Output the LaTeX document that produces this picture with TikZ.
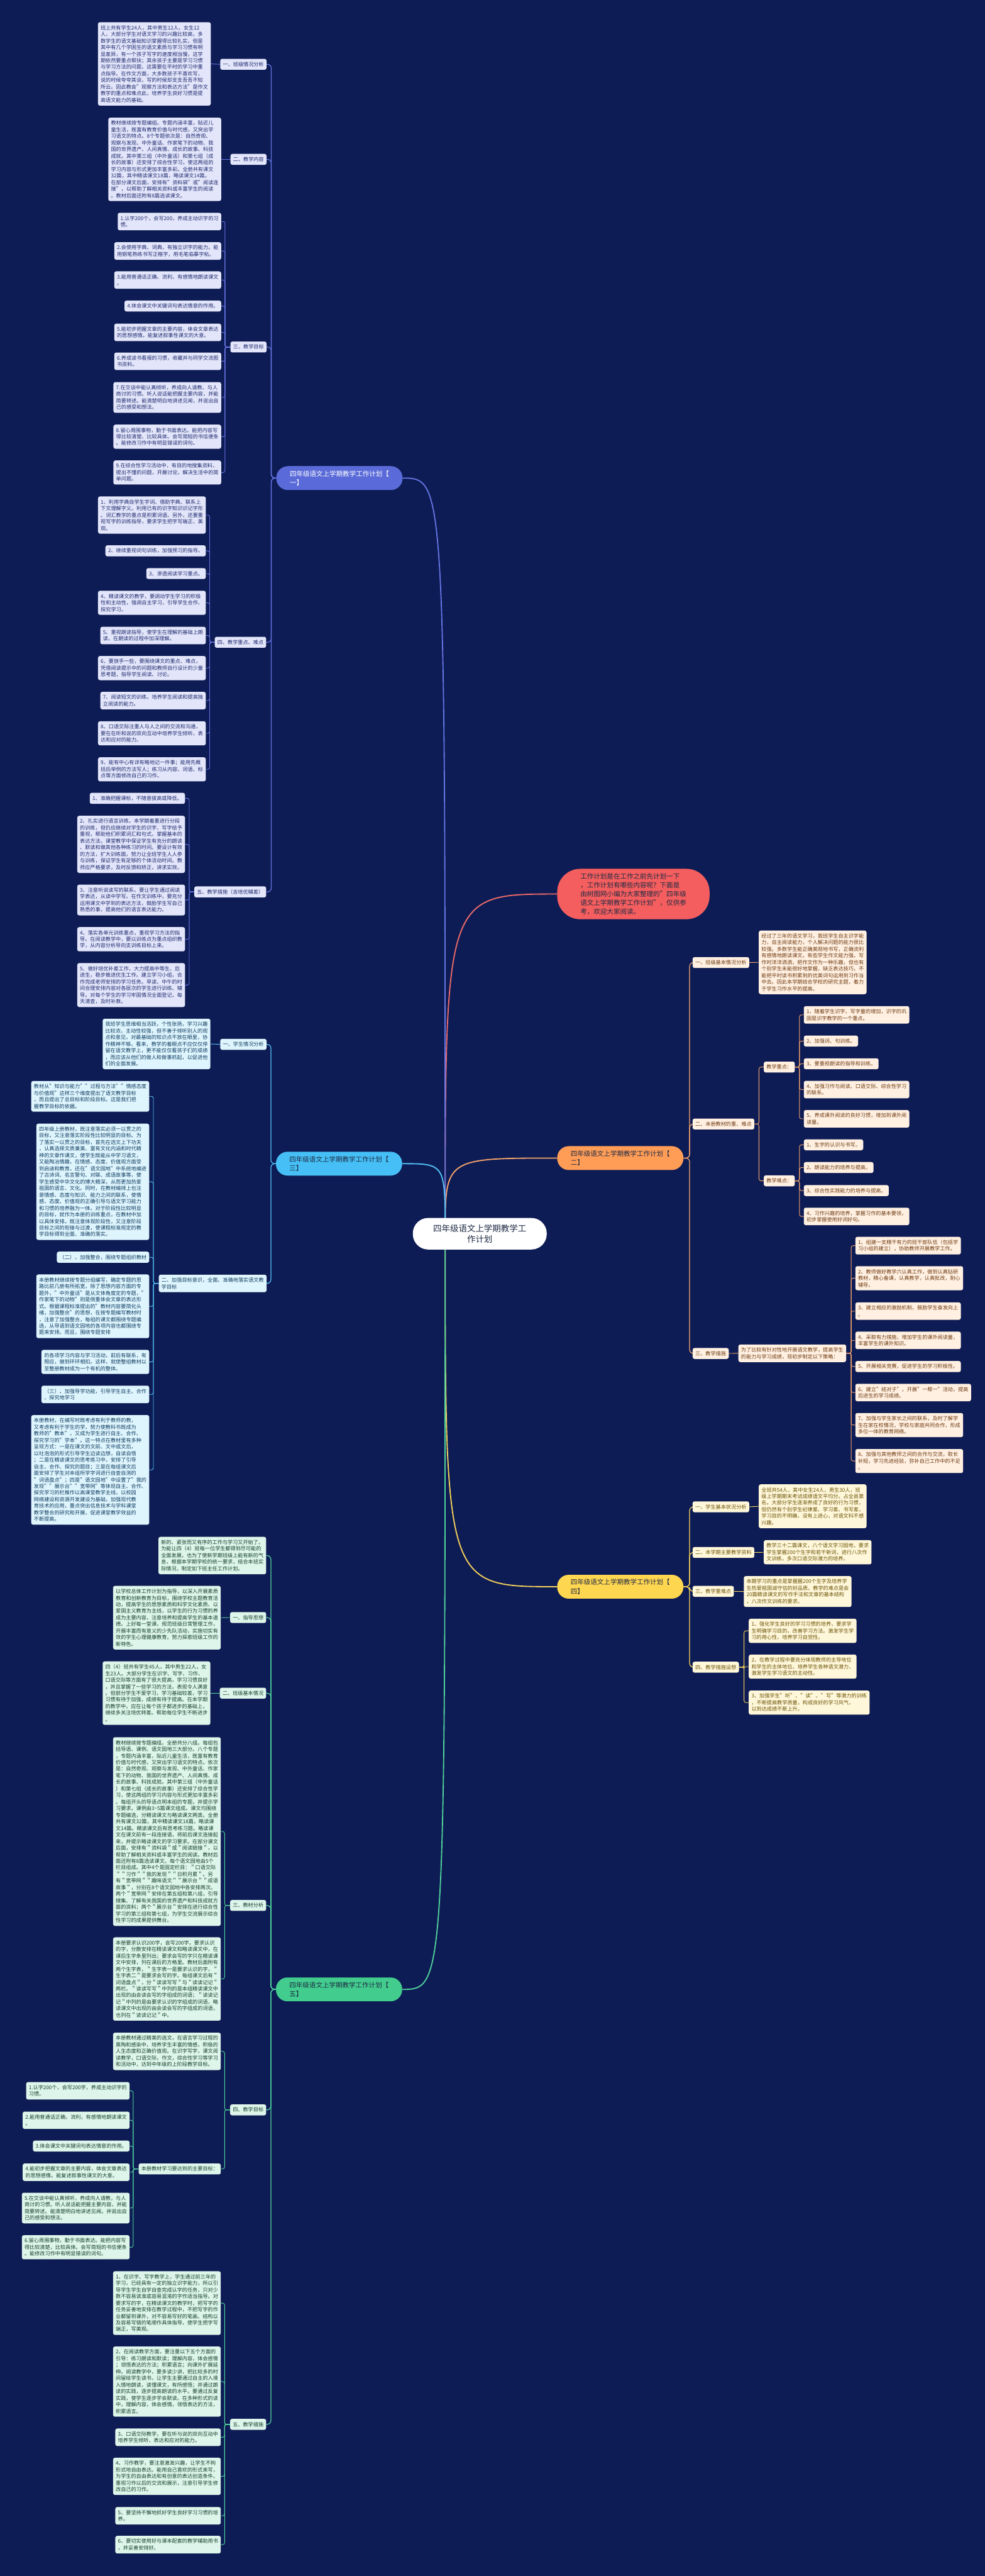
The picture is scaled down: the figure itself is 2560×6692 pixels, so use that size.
\documentclass[tikz,border=0pt]{standalone}
\usepackage{fontspec}
\setmainfont{Noto Sans CJK SC}

\pgfdeclarelayer{background}
\pgfdeclarelayer{lines}
\pgfsetlayers{background,lines,main}

\definecolor{bgNavy}{HTML}{0E1C55}
\definecolor{rootInk}{HTML}{1E2A44}
\definecolor{purpleMain}{HTML}{5A6BD9}
\definecolor{purpleLine}{HTML}{6575E2}
\definecolor{purpleLeaf}{HTML}{E3E6FA}
\definecolor{purpleInk}{HTML}{1F2A6E}
\definecolor{cyanMain}{HTML}{45BFF5}
\definecolor{cyanLine}{HTML}{52C4F7}
\definecolor{cyanLeaf}{HTML}{DFF5FE}
\definecolor{cyanInk}{HTML}{0E3B5E}
\definecolor{greenMain}{HTML}{42CD8E}
\definecolor{greenLine}{HTML}{4FD39B}
\definecolor{greenLeaf}{HTML}{DDF5EA}
\definecolor{greenInk}{HTML}{163F2C}
\definecolor{orangeMain}{HTML}{FF9D57}
\definecolor{orangeLine}{HTML}{F5A46C}
\definecolor{orangeLeaf}{HTML}{FFF0E2}
\definecolor{orangeInk}{HTML}{6E3A10}
\definecolor{yellowMain}{HTML}{FFD650}
\definecolor{yellowLine}{HTML}{F7D35A}
\definecolor{yellowLeaf}{HTML}{FFF7DA}
\definecolor{yellowInk}{HTML}{6A5206}
\definecolor{redMain}{HTML}{F45E5E}
\definecolor{redLine}{HTML}{F06B68}

\newcommand\leaffont{\fontsize{13.3pt}{17.1pt}\selectfont}
\newcommand\branchfont{\fontsize{17.2pt}{23pt}\selectfont}
\newcommand\rootfont{\fontsize{22pt}{29pt}\selectfont}

\tikzset{
  leafbox/.style={rounded corners=5pt, align=left, inner xsep=7pt, inner ysep=8pt, font=\leaffont},
  pleaf/.style={leafbox, fill=purpleLeaf, text=purpleInk},
  cleaf/.style={leafbox, fill=cyanLeaf, text=cyanInk},
  gleaf/.style={leafbox, fill=greenLeaf, text=greenInk},
  oleaf/.style={leafbox, fill=orangeLeaf, text=orangeInk},
  yleaf/.style={leafbox, fill=yellowLeaf, text=yellowInk},
  branchnode/.style={rounded corners=30pt, align=left, inner sep=0pt, minimum width=328pt, minimum height=62pt, font=\branchfont, text=rootInk},
  rootnode/.style={fill=white, rounded corners=40pt, align=center, inner sep=0pt, minimum width=348pt, minimum height=82pt, font=\rootfont, text=rootInk},
  intronode/.style={fill=redMain, rounded corners=60pt, align=left, inner sep=0pt, minimum width=396pt, minimum height=131pt, font=\branchfont, text=rootInk},
  trunk/.style={line width=2pt, rounded corners=10pt},
  twig/.style={line width=1.5pt, rounded corners=5pt},
  hubline/.style={line width=3pt},
}

\begin{document}
\begin{tikzpicture}[x=1pt,y=-1pt]

\begin{pgfonlayer}{background}
\fill[bgNavy] (0,0) rectangle (2560,6692);
\end{pgfonlayer}
\useasboundingbox (0,0) rectangle (2560,6692);

% root and intro
\node[rootnode] (root) at (1247,3205) {四年级语文上学期教学工\\作计划};
\coordinate (hub) at (1157,3205);
\node[intronode, anchor=west] (intro) at (1448,2322.5) {工作计划是在工作之前先计划一下\\，工作计划有哪些内容呢？下面是\\由树图网小编为大家整理的"四年级\\语文上学期教学工作计划"，仅供参\\考，欢迎大家阅读。};

% plan one
\node[branchnode, fill=purpleMain, text=white, anchor=west] (p0) at (718,1242) {四年级语文上学期教学工作计划【\\一】};
\node[pleaf, anchor=east] (ps1) at (693,167) {一、班级情况分析};
\node[pleaf, anchor=east] (pa1) at (548,166) {班上共有学生24人，其中男生12人，女生12\\人，大部分学生对语文学习的兴趣比较高，多\\数学生的语文基础知识掌握得比较扎实，但是\\其中有几个学困生的语文素质与学习习惯有明\\显差异，有一个孩子写字的速度相当慢，这学\\期依然要重点帮扶；其余孩子主要是学习习惯\\与学习方法的问题，这需要在平时的学习中重\\点指导。在作文方面，大多数孩子不喜欢写，\\说的时候夸夸其谈，写的时候却支支吾吾不知\\所云。因此教会"观察方法和表达方法"是作文\\教学的重点和难点此，培养学生良好习惯是提\\高语文能力的基础。};
\node[pleaf, anchor=east] (ps2) at (693,414) {二、教学内容};
\node[pleaf, anchor=east] (pa2) at (575,414) {教材继续按专题编组。专题内涵丰富，贴近儿\\童生活，既富有教育价值与时代感，又突出学\\习语文的特点。8个专题依次是：自然奇观、\\观察与发现、中外童话、作家笔下的动物、我\\国的世界遗产、人间真情、成长的故事、科技\\成就。其中第三组（中外童话）和第七组（成\\长的故事）还安排了综合性学习，使这两组的\\学习内容与形式更加丰富多彩。全册共有课文\\32篇，其中精读课文18篇，略读课文14篇。\\在部分课文后面，安排有"资料袋"或"阅读连\\接"，以帮助了解相关资料或丰富学生的阅读\\。教材后面还附有8篇选读课文。};
\node[pleaf, anchor=east] (ps3) at (693,901.5) {三、教学目标};
\node[pleaf, anchor=east] (pc1) at (575,575.5) {1.认字200个，会写200，养成主动识字的习\\惯。};
\node[pleaf, anchor=east] (pc2) at (575,652) {2.会使用字典、词典，有独立识字的能力。能\\用钢笔熟练书写正楷字，用毛笔临摹字帖。};
\node[pleaf, anchor=east] (pc3) at (575,727.5) {3.能用普通话正确、流利、有感情地朗读课文\\。};
\node[pleaf, anchor=east] (pc4) at (575,795) {4.体会课文中关键词句表达情意的作用。};
\node[pleaf, anchor=east] (pc5) at (575,863.5) {5.能初步把握文章的主要内容，体会文章表达\\的思想感情。能复述叙事性课文的大意。};
\node[pleaf, anchor=east] (pc6) at (575,938.5) {6.养成读书看报的习惯，收藏并与同学交流图\\书资料。};
\node[pleaf, anchor=east] (pc7) at (575,1032.5) {7.在交谈中能认真倾听，养成向人请教、与人\\商讨的习惯。听人说话能把握主要内容，并能\\简要转述。能清楚明白地讲述见闻，并说出自\\己的感受和想法。};
\node[pleaf, anchor=east] (pc8) at (575,1134.5) {8.留心周围事物，勤于书面表达。能把内容写\\得比较清楚、比较具体。会写简短的书信便条\\。能修改习作中有明显错误的词句。};
\node[pleaf, anchor=east] (pc9) at (575,1227.5) {9.在综合性学习活动中，有目的地搜集资料，\\提出不懂的问题，开展讨论，解决生活中的简\\单问题。};
\node[pleaf, anchor=east] (ps4) at (692,1668.5) {四、教学重点、难点};
\node[pleaf, anchor=east] (pd1) at (535,1338) {1、利用字典自学生字词。借助字典、联系上\\下文理解字义。利用已有的识字知识识记字形\\。词汇教学的重点是积累词语。另外，还要重\\视写字的训练指导，要求学生把字写端正、美\\观。};
\node[pleaf, anchor=east] (pd2) at (535,1431) {2、继续重视词句训练，加强预习的指导。};
\node[pleaf, anchor=east] (pd3) at (535,1490) {3、渗透阅读学习重点。};
\node[pleaf, anchor=east] (pd4) at (535,1566) {4、精读课文的教学，要调动学生学习的积极\\性和主动性，强调自主学习，引导学生合作、\\探究学习。};
\node[pleaf, anchor=east] (pd5) at (535,1651) {5、重视朗读指导，使学生在理解的基础上朗\\读、在朗读的过程中加深理解。};
\node[pleaf, anchor=east] (pd6) at (535,1735.5) {6、要放手一些，要围绕课文的重点、难点，\\凭借阅读提示中的问题和教师自行设计的少量\\思考题，指导学生阅读、讨论。};
\node[pleaf, anchor=east] (pd7) at (535,1820) {7、阅读短文的训练。培养学生阅读和提高独\\立阅读的能力。};
\node[pleaf, anchor=east] (pd8) at (535,1905) {8、口语交际注重人与人之间的交流和沟通，\\要在在听和说的双向互动中培养学生倾听、表\\达和应对的能力。};
\node[pleaf, anchor=east] (pd9) at (535,1998.5) {9、能有中心有详有略地记一件事；能用先概\\括后举例的方法写人；练习从内容、词语、标\\点等方面修改自己的习作。};
\node[pleaf, anchor=east] (ps5) at (692,2317) {五、教学措施（含培优辅差）};
\node[pleaf, anchor=east] (pe1) at (481,2074) {1、准确把握课标，不随意拔高或降低。};
\node[pleaf, anchor=east] (pe2) at (481,2193.5) {2、扎实进行语言训练，本学期着重进行分段\\的训练，但仍应继续对学生的识字、写字给予\\重视，帮助他们积累词汇和句式，掌握基本的\\表达方法。课堂教学中保证学生有充分的朗读\\、默读和做其他各种练习的时间。要设计有效\\的方法，扩大训练面，努力让全班学生人人参\\与训练，保证学生有足够的个体活动时间。教\\师应严格要求，及时反馈和矫正，讲求实效。};
\node[pleaf, anchor=east] (pe3) at (481,2338) {3、注意听说读写的联系。要让学生通过阅读\\学表达，从读中学写。在作文训练中，要充分\\运用课文中学到的表达方法，鼓励学生写自己\\熟悉的事，提高他们的语言表达能力。};
\node[pleaf, anchor=east] (pe4) at (481,2440) {4、落实各单元训练重点，重视学习方法的指\\导。在阅读教学中，要以训练点为重点组织教\\学，从内容分析导向支训练目标上来。};
\node[pleaf, anchor=east] (pe5) at (481,2559) {5、做好培优补差工作，大力提高中等生、后\\进生，稳步推进优生工作。建立学习小组，合\\作完成老师安排的学习任务。早读、中午的时\\间合理安排内容对各层次的学生进行训练、辅\\导。对每个学生的学习牢固情况全面登记，每\\天清查，及时补救。};

% plan three
\node[branchnode, fill=cyanMain, anchor=west] (c0) at (717,3023) {四年级语文上学期教学工作计划【\\三】};
\node[cleaf, anchor=east] (ct1) at (693,2713) {一、学生情况分析};
\node[cleaf, anchor=east] (cf1) at (547,2712) {我班学生思维相当活跃，个性张扬，学习兴趣\\比较浓，主动性较强，但不善于倾听别人的观\\点和意见，对最基础的知识点不放在眼里，协\\作精神不够。看来，教学的着眼点不应仅仅停\\留在语文教学上，更不能仅仅看孩子们的成绩\\，而应该从他们的做人和做事抓起，以促进他\\们的全面发展。};
\node[cleaf, anchor=east] (ct2) at (693,3334) {二、加强目标意识，全面、准确地落实语文教\\学目标};
\node[cleaf, anchor=east] (cg1) at (388,2848) {教材从"知识与能力""过程与方法""情感态度\\与价值观"这样三个维度提出了语文教学目标\\，而且提出了总目标和阶段目标。这是我们把\\握教学目标的依据。};
\node[cleaf, anchor=east] (cg2) at (388,3070) {四年级上册教材，既注意落实必须一以贯之的\\目标，又注意落实阶段性比较明显的目标。为\\了落实一以贯之的目标，首先在选文上下功夫\\，认真选择文质兼美、富有文化内涵和时代精\\神的文章作课文，使学生既能从中学习语文，\\又能陶冶情趣，在情感、态度、价值观方面受\\到启迪和教育。还在"语文园地"中系统地编进\\了古诗词、名言警句、对联、成语故事等，使\\学生感受中华文化的博大精深，从而更加热爱\\祖国的语言、文化。同时，在教材编排上也注\\意情感、态度与知识、能力之间的联系，使情\\感、态度、价值观的正确引导与语文学习能力\\和习惯的培养融为一体。对于阶段性比较明显\\的目标，就作为本册的训练重点，在教材中加\\以具体安排。既注意体现阶段性，又注意阶段\\目标之间的衔接与过渡，使课程标准规定的教\\学目标得到全面、准确的落实。};
\node[cleaf, anchor=east] (cg3) at (388,3266) {（二）、加强整合，围绕专题组织教材};
\node[cleaf, anchor=east] (cg4) at (388,3393.5) {本册教材继续按专题分组编写，确定专题的思\\路比前几册有所拓宽，除了思想内容方面的专\\题外，"中外童话"是从文体角度定的专题，"\\作家笔下的动物"则是侧重体会文章的表达形\\式。根据课程标准提出的"教材内容要简化头\\绪，加强整合"的思想，在按专题编写教材时\\，注意了加强整合，每组的课文都围绕专题编\\选，从导语到语文园地的各项内容也都围绕专\\题来安排。而且，围绕专题安排};
\node[cleaf, anchor=east] (cg5) at (388,3538) {的各项学习内容与学习活动，前后有联系，有\\照应，做到环环相扣。这样，就使整组教材以\\至整册教材成为一个有机的整体。};
\node[cleaf, anchor=east] (cg6) at (388,3622.5) {（三）、加强导学功能，引导学生自主、合作\\、探究地学习};
\node[cleaf, anchor=east] (cg7) at (388,3818.5) {本册教材，在编写时既考虑有利于教师的教，\\又考虑有利于学生的学，努力使教科书既成为\\教师的"教本"，又成为学生进行自主、合作、\\探究学习的"学本"。这一特点在教材里有多种\\呈现方式：一是在课文的文前、文中或文后，\\以吐泡泡的形式引导学生边读边想，自读自悟\\；二是在精读课文的思考练习中，安排了引导\\自主、合作、探究的题目；三是在每组课文后\\面安排了学生对本组所学字词进行自查自测的\\"词语盘点"；四是"语文园地"中设置了"我的\\发现""展示台""宽带网"等体现自主、合作、\\探究学习的栏推作以高课堂教学主线，以校园\\网络建设和资源开发建设为基础，加强现代教\\育技术的应用，重点突出信息技术与学科课堂\\教学整合的研究和开展，促进课堂教学效益的\\不断提高。};

% plan five
\node[branchnode, fill=greenMain, anchor=west] (g0) at (717,5168) {四年级语文上学期教学工作计划【\\五】};
\node[gleaf, anchor=east] (gh0) at (692,4041) {新的、紧张而又有序的工作与学习又开始了。\\为能让四（4）班每一位学生都得到尽可能的\\全面发展，也为了使新学期班级上能有新的气\\息，根据本学期学校的统一要求，结合本班实\\际情况，制定如下班主任工作计划。};
\node[gleaf, anchor=east] (gs1) at (692,4202) {一、指导思想};
\node[gleaf, anchor=east] (ga1) at (574,4202.5) {以学校总体工作计划为指导，以深入开展素质\\教育和创新教育为目标，围绕学校主题教育活\\动，提高学生的思想素质和科学文化素质、以\\爱国主义教育为主线，以学生的行为习惯的养\\成为主要内容，注意培养和提高学生的基本道\\德。上好每一堂课，规范班级日常管理工作，\\开展丰富而有意义的少先队活动，实施切实有\\效的学生心理健康教育。努力探索班级工作的\\新特色。};
\node[gleaf, anchor=east] (gs2) at (692,4398.5) {二、班级基本情况};
\node[gleaf, anchor=east] (gb1) at (547,4398.5) {四（4）班共有学生45人，其中男生22人，女\\生23人。大部分学生在识字、写字、习作、\\口语交际等方面有了很大提高，学习习惯良好\\，并且掌握了一些学习的方法，表现令人满意\\。但部分学生不爱学习，学习基础较差，学习\\习惯有待于加强，成绩有待于提高。在本学期\\的教学中，应在让每个孩子都进步的基础上，\\继续多关注培优转差。帮助每位学生不断进步\\。};
\node[gleaf, anchor=east] (gs3) at (692,4950) {三、教材分析};
\node[gleaf, anchor=east] (gc1) at (574,4758) {教材继续按专题编组。全册共分八组。每组包\\括导语、课例、语文园地三大部分。八个专题\\，专题内涵丰富，贴近儿童生活，既富有教育\\价值与时代感，又突出学习语文的特点。依次\\是：自然奇观、观察与发现、中外童话、作家\\笔下的动物、我国的世界遗产、人间真情、成\\长的故事、科技成就。其中第三组（中外童话\\）和第七组（成长的故事）还安排了综合性学\\习，使这两组的学习内容与形式更加丰富多彩\\。每组开头的导语点明本组的专题，并提示学\\习要求。课例由3\textasciitilde 5篇课文组成。课文均围绕\\专题编选，分精读课文与略读课文两类。全册\\共有课文32篇，其中精读课文18篇，略读课\\文14篇。精读课文后有思考练习题。略读课\\文在课文前有一段连接语，将前后课文连接起\\来，并提示略读课文的学习要求。在部分课文\\后面，安排有＂资料袋＂或＂阅读链接＂，以\\帮助了解相关资料或丰富学生的阅读。教材后\\面还附有8篇选读课文。每个语文园地由5个\\栏目组成。其中4个是固定栏目：＂口语交际\\＂＂习作＂＂我的发现＂＂日积月累＂。另\\有＂宽带网＂＂趣味语文＂＂展示台＂＂成语\\故事＂，分别在8个语文园地中各安排两次。\\两个＂宽带网＂安排在第五组和第八组，引导\\搜集、了解有关我国的世界遗产和科技成就方\\面的资料；两个＂展示台＂安排在进行综合性\\学习的第三组和第七组，为学生交流展示综合\\性学习的成果提供舞台。};
\node[gleaf, anchor=east] (gc2) at (574,5141) {本册要求认识200字，会写200字。要求认识\\的字，分散安排在精读课文和略读课文中，在\\课后生字条里列出；要求会写的字只在精读课\\文中安排，列在课后的方格里。教材后面附有\\两个生字表，＂生字表一是要求认识的字，＂\\生字表二＂是要求会写的字。每组课文后有＂\\词语盘点＂，分＂读读写写＂与＂读读记记＂\\两栏。＂读读写写＂中列的是本组精读课文中\\出现的由会读会写的字组成的词语；＂读读记\\记＂中列的是由要求认识的字组成的词语，略\\读课文中出现的由会读会写的字组成的词语，\\也列在＂读读记记＂中。};
\node[gleaf, anchor=east] (gs4) at (692,5481) {四、教学目标};
\node[gleaf, anchor=east] (gd1) at (574,5329) {本册教材通过精美的选文，在语言学习过程的\\熏陶和感染中，培养学生丰富的情感，积极的\\人生态度和正确价值观。在识字写字，课文阅\\读教学，口语交际，作文，综合性学习等学习\\和活动中，达到中年级的上阶段教学目标。};
\node[gleaf, anchor=east] (gd2) at (574,5634.5) {本册教材学习要达到的主要目标：};
\node[gleaf, anchor=east] (gm1) at (337,5431.5) {1.认字200个，会写200字，养成主动识字的\\习惯。};
\node[gleaf, anchor=east] (gm2) at (337,5508) {2.能用普通话正确，流利，有感情地朗读课文\\。};
\node[gleaf, anchor=east] (gm3) at (337,5575) {3.体会课文中关键词句表达情意的作用。};
\node[gleaf, anchor=east] (gm4) at (337,5643) {4.能初步把握文章的主要内容，体会文章表达\\的思想感情。能复述叙事性课文的大意。};
\node[gleaf, anchor=east] (gm5) at (337,5736) {5.在交谈中能认真倾听，养成向人请教，与人\\商讨的习惯。听人说话能把握主要内容，并能\\简要转述。能清楚明白地讲述见闻，并说出自\\己的感受和想法。};
\node[gleaf, anchor=east] (gm6) at (337,5838) {6.留心周围事物，勤于书面表达。能把内容写\\得比较清楚，比较具体。会写简短的书信便条\\。能修改习作中有明显错误的词句。};
\node[gleaf, anchor=east] (gs5) at (692,6298) {五、教学措施};
\node[gleaf, anchor=east] (ge1) at (574,5983) {1、在识字、写字教学上，学生通过前三年的\\学习，已经具有一定的独立识字能力，所以引\\导学生学生自学自查完成认字的任务，只对少\\数不容易读准或容易混淆的字作适当指导。对\\要求写的字，在精读课文的教学时，把写字的\\任务妥善地安排在教学过程中，不把写字的作\\业都留到课外，对不容易写好的笔画、结构以\\及容易写错的笔顺作具体指导，使学生把字写\\端正，写美观。};
\node[gleaf, anchor=east] (ge2) at (574,6187) {2、在阅读教学方面，要注重以下五个方面的\\引导：练习朗读和默读；理解内容，体会感情\\；领悟表达的方法；积累语言；向课外扩展延\\伸。阅读教学中，要多读少讲，把比较多的时\\间留给学生读书，让学生主要通过自主的入境\\入情地朗读，读懂课文，有所感悟；并通过朗\\读的实践，逐步提高朗读的水平。要通过反复\\实践，使学生逐步学会默读。在多种形式的读\\中，理解内容，体会感情，领悟表达的方法，\\积累语言。};
\node[gleaf, anchor=east] (ge3) at (574,6331.5) {3、口语交际教学，要在听与说的双向互动中\\培养学生倾听、表达和应对的能力。};
\node[gleaf, anchor=east] (ge4) at (574,6433) {4、习作教学，要注意激发兴趣，让学生不拘\\形式地自由表达。能用自己喜欢的形式来写，\\为学生的自由表达和有创意的表达创造条件。\\重视习作以后的交流和展示，注意引导学生修\\改自己的习作。};
\node[gleaf, anchor=east] (ge5) at (574,6535.5) {5、要坚持不懈地抓好学生良好学习习惯的培\\养。};
\node[gleaf, anchor=east] (ge6) at (574,6610.5) {6、要切实使用好与课本配套的教学辅助用书\\，并妥善安排好。};

% plan two
\node[branchnode, fill=orangeMain, anchor=west] (o0) at (1448,3008.5) {四年级语文上学期教学工作计划【\\二】};
\node[oleaf, anchor=west] (os1) at (1800,2500.5) {一、班级基本情况分析};
\node[oleaf, anchor=west] (oa1) at (1972,2500) {经过了三年的语文学习，我班学生自主识字能\\力，自主阅读能力，个人解决问题的能力很比\\较强。多数学生能正确美观地书写，正确流利\\有感情地朗读课文。有些学生作文能力强，写\\作时洋洋洒洒，把作文作为一种乐趣，但也有\\个别学生未能很好地掌握，缺乏表达技巧，不\\能把平时读书积累到的优美词句运用到习作当\\中去。因此本学期结合学校的研究主题，着力\\于学生习作水平的提高。};
\node[oleaf, anchor=west] (os2) at (1800,2920) {二、本册教材的重、难点};
\node[oleaf, anchor=west] (ok) at (1985,2772) {教学重点：};
\node[oleaf, anchor=west] (ok1) at (2089,2636.5) {1、随着学生识字、写字量的增加，识字的巩\\固是识字教学的一个重点。};
\node[oleaf, anchor=west] (ok2) at (2089,2704.5) {2、加强词、句训练。};
\node[oleaf, anchor=west] (ok3) at (2089,2763.5) {3、要重视朗读的指导和训练。};
\node[oleaf, anchor=west] (ok4) at (2089,2830.5) {4、加强习作与阅读、口语交际、综合性学习\\的联系。};
\node[oleaf, anchor=west] (ok5) at (2089,2906.5) {5、养成课外阅读的良好习惯，增加到课外阅\\读量。};
\node[oleaf, anchor=west] (on) at (1985,3067.5) {教学难点：};
\node[oleaf, anchor=west] (on1) at (2089,2974) {1、生字的认识与书写。};
\node[oleaf, anchor=west] (on2) at (2089,3033) {2、朗读能力的培养与提高。};
\node[oleaf, anchor=west] (on3) at (2089,3093) {3、综合性实践能力的培养与提高。};
\node[oleaf, anchor=west] (on4) at (2089,3160) {4、习作兴趣的培养，掌握习作的基本要领，\\初步掌握使用好词好句。};
\node[oleaf, anchor=west] (os3) at (1800,3516) {三、教学措施};
\node[oleaf, anchor=west] (om) at (1919,3515.5) {为了比较有针对性地开展语文教学，提高学生\\的能力与学习成绩，现初步制定以下策略：};
\node[oleaf, anchor=west] (om1) at (2223,3236) {1、组建一支精干有力的班干部队伍（包括学\\习小组的建立），协助教师开展教学工作。};
\node[oleaf, anchor=west] (om2) at (2223,3320.5) {2、教师做好教学六认真工作，做到认真钻研\\教材，精心备课，认真教学，认真批改，耐心\\辅导。};
\node[oleaf, anchor=west] (om3) at (2223,3406) {3、建立相应的激励机制，鼓励学生奋发向上\\。};
\node[oleaf, anchor=west] (om4) at (2223,3482) {4、采取有力措施，增加学生的课外阅读量，\\丰富学生的课外知识。};
\node[oleaf, anchor=west] (om5) at (2223,3550) {5、开展相关竞赛，促进学生的学习积极性。};
\node[oleaf, anchor=west] (om6) at (2223,3617.5) {6、建立"结对子"，开展"一帮一"活动，提高\\后进生的学习成绩。};
\node[oleaf, anchor=west] (om7) at (2223,3702) {7、加强与学生家长之间的联系，及时了解学\\生在家在校情况，学校与家庭共同合作，形成\\多位一体的教育网络。};
\node[oleaf, anchor=west] (om8) at (2223,3795.5) {8、加强与其他教师之间的合作与交流，取长\\补短，学习先进经验，弥补自己工作中的不足\\。};

% plan four
\node[branchnode, fill=yellowMain, anchor=west] (y0) at (1448,4122) {四年级语文上学期教学工作计划【\\四】};
\node[yleaf, anchor=west] (ys1) at (1800,3914.5) {一、学生基本状况分析};
\node[yleaf, anchor=west] (ya1) at (1972,3913) {全班共54人，其中女生24人，男生30人，班\\级上学期期末考试成绩语文平均分。占全县第\\名。大部分学生逐渐养成了良好的行为习惯，\\但仍然有个别学生纪律差、学习差、书写差，\\学习目的不明确，没有上进心，对语文科不感\\兴趣。};
\node[yleaf, anchor=west] (ys2) at (1800,4033) {二、本学期主要教学资料};
\node[yleaf, anchor=west] (ya2) at (1985,4032.5) {教学三十二篇课文，八个语文学习园地，要求\\学生掌握200个生字和若干新词，进行八次作\\文训练，多次口语交际潜力的培养。};
\node[yleaf, anchor=west] (ys3) at (1800,4134) {三、教学重难点};
\node[yleaf, anchor=west] (ya3) at (1933,4134.5) {本期学习的重点是掌握握200个生字及培养学\\生热爱祖国诚守信的好品质。教学的难点是会\\20篇精读课文的写作手法和文章的基本结构\\，八次作文训练的要求。};
\node[yleaf, anchor=west] (ys4) at (1800,4331) {四、教学措施设想};
\node[yleaf, anchor=west] (yd1) at (1946,4236.5) {1、强化学生良好的学习习惯的培养，要求学\\生明确学习目的，改善学习方法。激发学生学\\习的用心性，培养学习自觉性。};
\node[yleaf, anchor=west] (yd2) at (1946,4329.5) {2、在教学过程中要充分体现教师的主导地位\\和学生的主体地位，培养学生各种语文潜力，\\激发学生学习语文的主动性。};
\node[yleaf, anchor=west] (yd3) at (1946,4423) {3、加强学生"听"、"读"、"写"等潜力的训练\\，不断提高教学质量，构成良好的学习风气，\\以到达成绩不断上升。};

\begin{pgfonlayer}{lines}
% from the root
\draw[hubline, redLine] (hub) .. controls (hub |- intro.west) .. (intro.west);
\draw[hubline, orangeLine] (hub) .. controls (hub |- o0.west) .. (o0.west);
\draw[hubline, yellowLine] (hub) .. controls (hub |- y0.west) .. (y0.west);
\draw[hubline, purpleLine] (hub) .. controls (hub |- p0.east) .. (p0.east);
\draw[hubline, cyanLine] (hub) .. controls (hub |- c0.east) .. (c0.east);
\draw[hubline, greenLine] (hub) .. controls (hub |- g0.east) .. (g0.east);

% plan one
\foreach \i in {1,...,5}
  \draw[trunk, purpleLine] (p0.west) -- ++(-13,0) |- (ps\i.east);
\draw[twig, purpleLine] (ps1.west) -- (pa1.east);
\draw[twig, purpleLine] (ps2.west) -- (pa2.east);
\foreach \i in {1,...,9}{
  \draw[twig, purpleLine] (ps3.west) -- ++(-14,0) |- (pc\i.east);
  \draw[twig, purpleLine] (ps4.west) -- ++(-13,0) |- (pd\i.east);
}
\foreach \i in {1,...,5}
  \draw[twig, purpleLine] (ps5.west) -- ++(-13,0) |- (pe\i.east);

% plan three
\foreach \i in {1,2}
  \draw[trunk, cyanLine] (c0.west) -- ++(-13,0) |- (ct\i.east);
\draw[twig, cyanLine] (ct1.west) -- (cf1.east);
\foreach \i in {1,...,7}
  \draw[twig, cyanLine] (ct2.west) -- ++(-14,0) |- (cg\i.east);

% plan five
\foreach \n in {gh0,gs1,gs2,gs3,gs4,gs5}
  \draw[trunk, greenLine] (g0.west) -- ++(-13,0) |- (\n.east);
\draw[twig, greenLine] (gs1.west) -- (ga1.east);
\draw[twig, greenLine] (gs2.west) -- (gb1.east);
\foreach \n in {gc1,gc2}
  \draw[twig, greenLine] (gs3.west) -- ++(-14,0) |- (\n.east);
\foreach \n in {gd1,gd2}
  \draw[twig, greenLine] (gs4.west) -- ++(-14,0) |- (\n.east);
\foreach \i in {1,...,6}{
  \draw[twig, greenLine] (gd2.west) -- ++(-14,0) |- (gm\i.east);
  \draw[twig, greenLine] (gs5.west) -- ++(-14,0) |- (ge\i.east);
}

% plan two
\foreach \n in {os1,os2,os3}
  \draw[trunk, orangeLine] (o0.east) -- ++(16,0) |- (\n.west);
\draw[twig, orangeLine] (os1.east) -- (oa1.west);
\foreach \n in {ok,on}
  \draw[twig, orangeLine] (os2.east) -- ++(12,0) |- (\n.west);
\foreach \i in {1,...,5}
  \draw[twig, orangeLine] (ok.east) -- ++(12,0) |- (ok\i.west);
\foreach \i in {1,...,4}
  \draw[twig, orangeLine] (on.east) -- ++(12,0) |- (on\i.west);
\draw[twig, orangeLine] (os3.east) -- (om.west);
\foreach \i in {1,...,8}
  \draw[twig, orangeLine] (om.east) -- ++(13,0) |- (om\i.west);

% plan four
\foreach \i in {1,...,4}
  \draw[trunk, yellowLine] (y0.east) -- ++(16,0) |- (ys\i.west);
\foreach \i in {1,2,3}
  \draw[twig, yellowLine] (ys\i.east) -- (ya\i.west);
\foreach \i in {1,2,3}
  \draw[twig, yellowLine] (ys4.east) -- ++(13,0) |- (yd\i.west);
\end{pgfonlayer}

\end{tikzpicture}
\end{document}
